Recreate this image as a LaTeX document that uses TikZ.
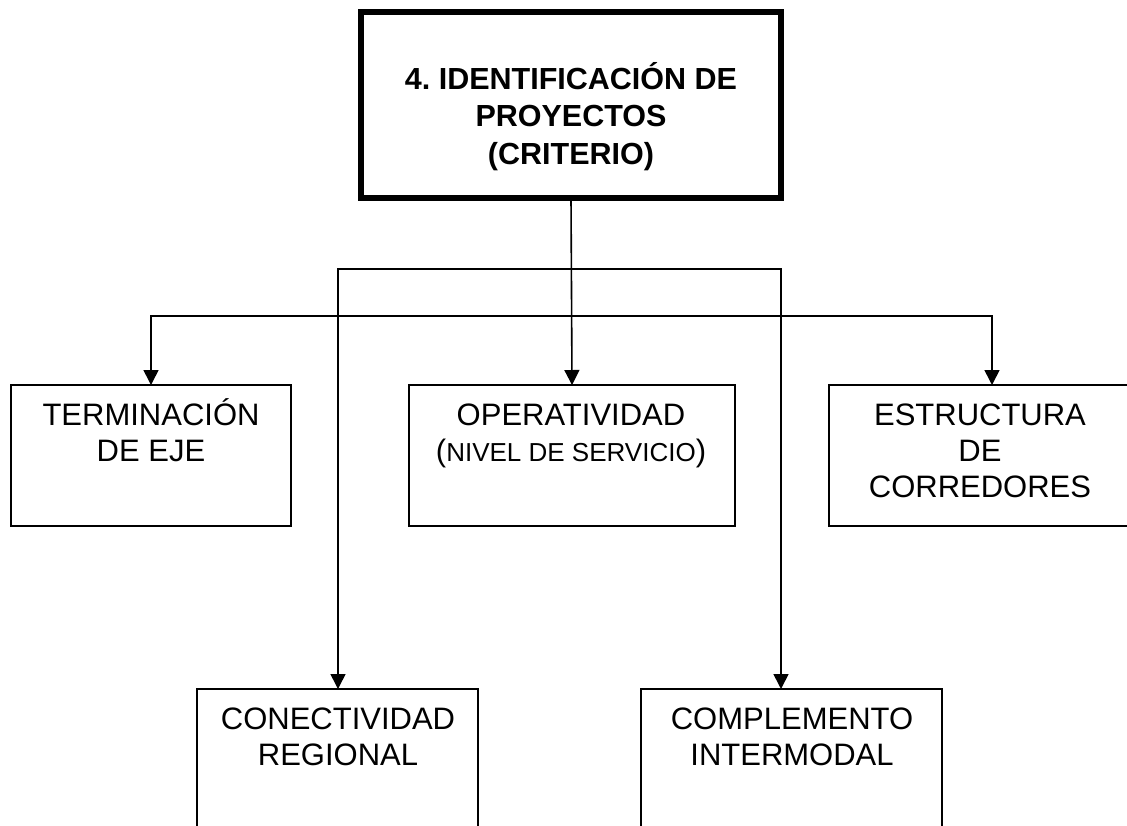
\documentclass[tikz,border=0pt]{standalone}
\usepackage{fontspec}
\setmainfont{Liberation Sans}
\usetikzlibrary{arrows.meta}
\frenchspacing
\tikzset{
  box/.style={draw=black, line width=1.6pt, inner sep=0pt, outer sep=0pt, anchor=north west},
  bigbox/.style={draw=black, line width=6pt, inner sep=0pt, outer sep=0pt, anchor=north west},
  lbl/.style={inner sep=0pt, outer sep=0pt, anchor=north, align=center, font=\fontsize{31}{36}\selectfont},
  lblb/.style={inner sep=0pt, outer sep=0pt, anchor=north, align=center, font=\fontsize{30.5}{37.5}\selectfont\bfseries},
  conn/.style={draw=black, line width=1.6pt},
  arr/.style={conn, -{Triangle[width=15pt,length=15pt]}}
}
\newcommand{\fst}{\rule{0pt}{28pt}}
\begin{document}
\frenchspacing
\begin{tikzpicture}[x=1pt,y=-1pt]
\useasboundingbox (0,0) rectangle (1127,825);
% boxes
\node[bigbox, minimum width=420pt, minimum height=186pt] (top) at (361,12) {};
\node[box, minimum width=280pt, minimum height=141pt] (term) at (11,385) {};
\node[box, minimum width=326pt, minimum height=141pt] (oper) at (409,385) {};
\node[box, minimum width=302pt, minimum height=141pt] (estr) at (829,385) {};
\node[box, minimum width=281pt, minimum height=160pt] (cone) at (197,689) {};
\node[box, minimum width=301pt, minimum height=160pt] (comp) at (641,689) {};
% texts
\node[lblb] (toptxt) at (571,61) {\fst 4. IDENTIFICACIÓN DE\\PROYECTOS\\(CRITERIO)};
\node[lbl] (termtxt) at (151,397) {\fst TERMINACIÓN\\DE EJE};
\node[lbl] (opertxt) at (571,397) {\fst OPERATIVIDAD\\({\fontsize{26}{36}\selectfont NIVEL DE SERVICIO})};
\node[lbl] (estrtxt) at (980,397) {\fst ESTRUCTURA\\DE\\CORREDORES};
\node[lbl] (conetxt) at (338,701) {\fst CONECTIVIDAD\\REGIONAL};
\node[lbl] (comptxt) at (792,701) {\fst COMPLEMENTO\\INTERMODAL};
% junctions and arrow targets
\coordinate (j1) at (571,269);
\coordinate (j2) at (571,316);
\coordinate (ta) at (151,385);
\coordinate (ea) at (992,385);
\coordinate (ca) at (338,689);
\coordinate (ma) at (781,689);
% connectors
\draw[arr] (top.south) -- (oper.north);
\draw[arr] (j1) -| (ca);
\draw[arr] (j1) -| (ma);
\draw[arr] (j2) -| (ta);
\draw[arr] (j2) -| (ea);
\end{tikzpicture}
\end{document}
